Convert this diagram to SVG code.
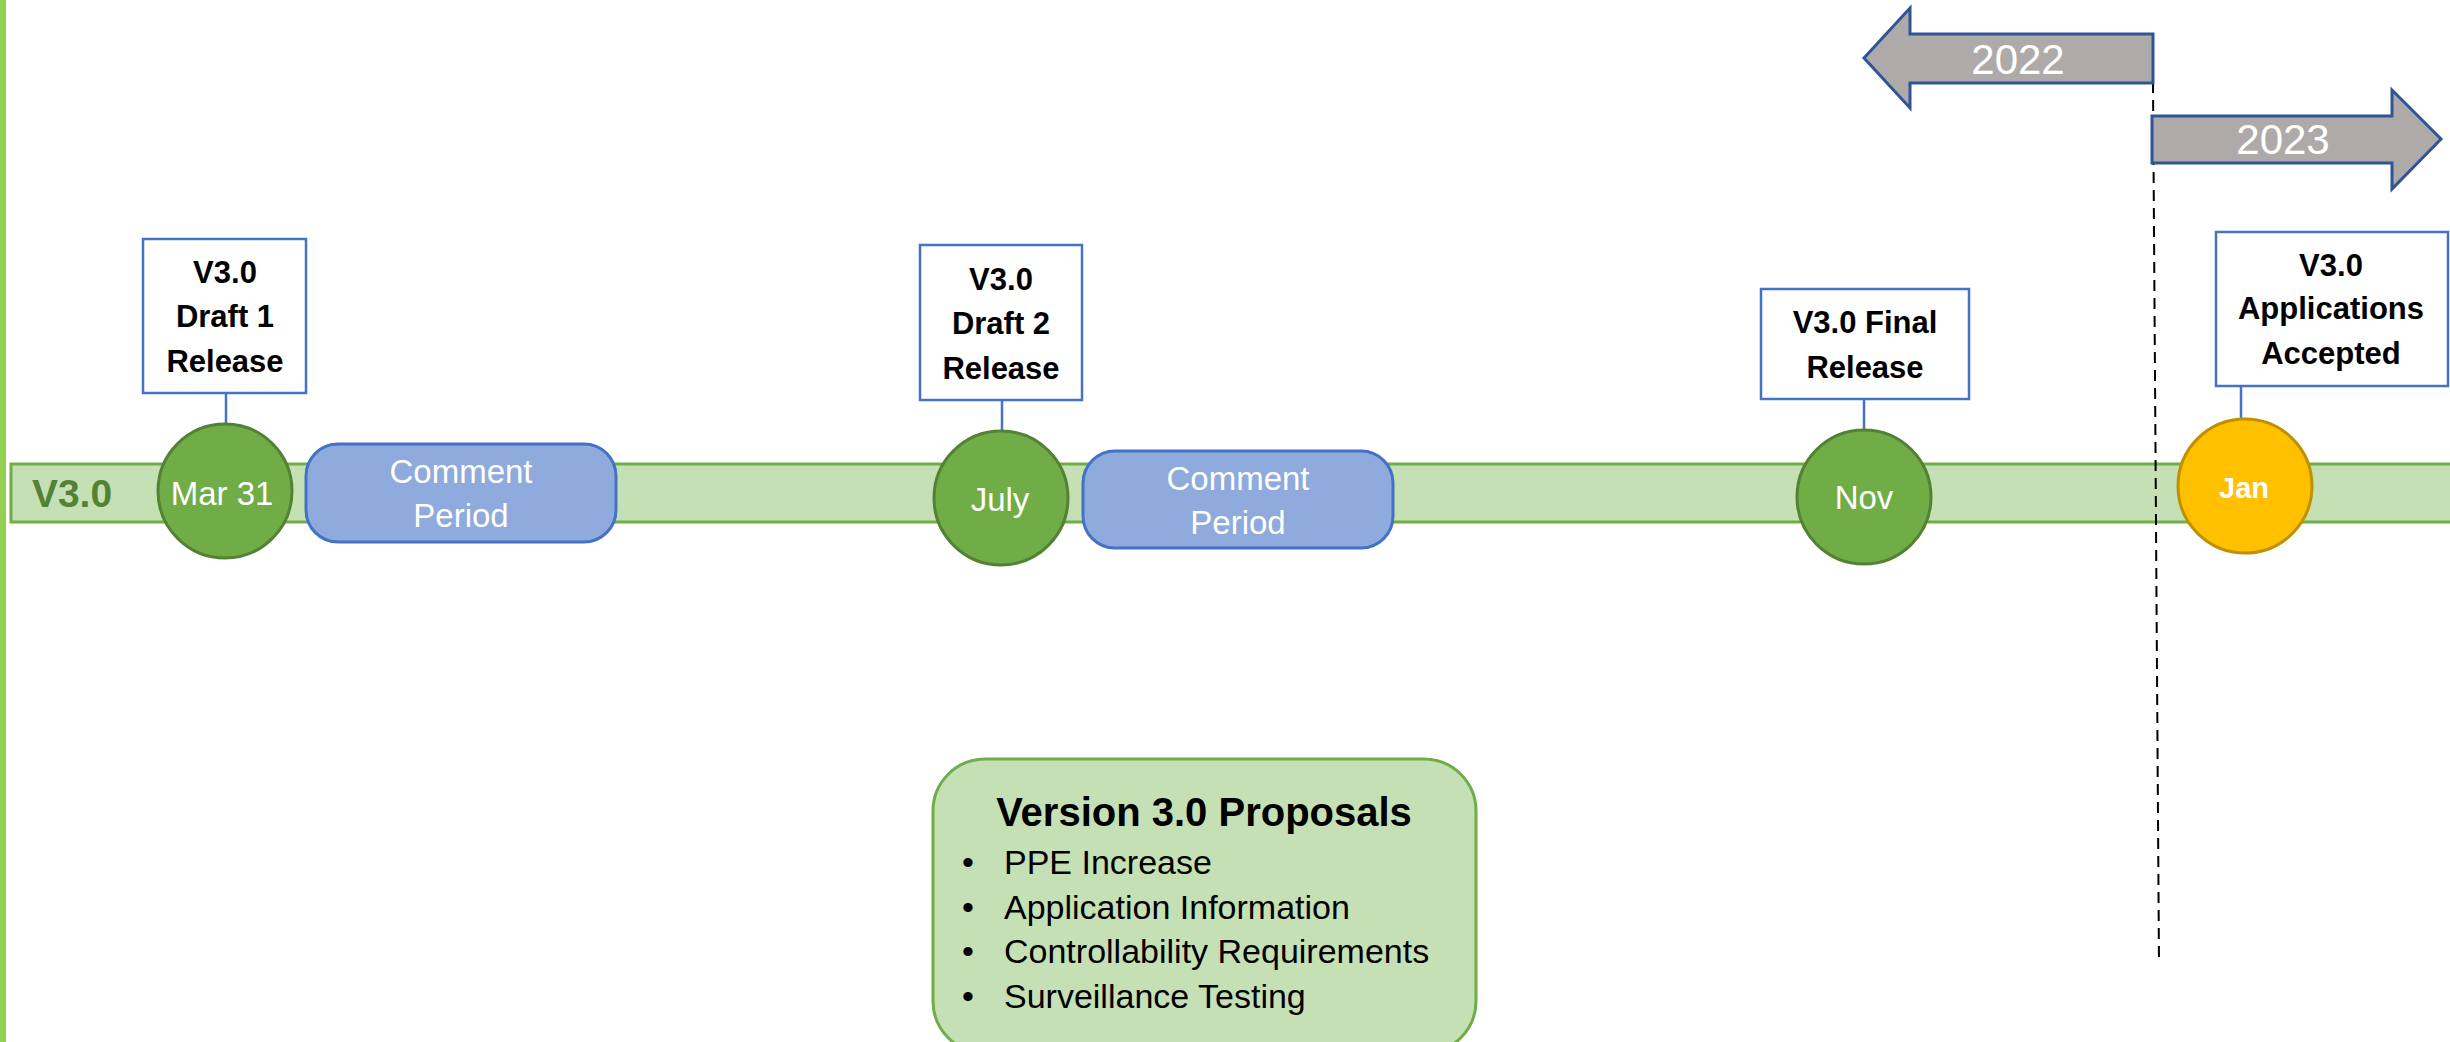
<svg xmlns="http://www.w3.org/2000/svg" width="2450" height="1042" viewBox="0 0 2450 1042">
<style>
.lbl{font-family:"Liberation Sans",Arial,sans-serif;font-weight:bold;font-size:31px;fill:#000;text-anchor:middle}
.box{fill:#fff;stroke:#4472C4;stroke-width:2.5}
.ms{fill:#70AD47;stroke:#548235;stroke-width:3}
.mt{font-family:"Liberation Sans",Arial,sans-serif;font-size:33px;fill:#fff;text-anchor:middle}
.cp{fill:#8FAADC;stroke:#4472C4;stroke-width:3}
.yr{fill:#AEAAAA;stroke:#2F5597;stroke-width:3;stroke-linejoin:miter}
.yt{font-family:"Liberation Sans",Arial,sans-serif;font-size:42px;fill:#fff;text-anchor:middle}
.con{stroke:#4472C4;stroke-width:2.5;fill:none}
.pt{font-family:"Liberation Sans",Arial,sans-serif;font-size:34px;fill:#000}
</style>
<rect x="0" y="0" width="2450" height="1042" fill="#fff"/>
<rect id="leftbar" x="0" y="0" width="6" height="1042" fill="#92D050"/>
<g id="band">
<rect x="11" y="464" width="2445" height="58" fill="#C5E0B4" stroke="#70AD47" stroke-width="3"/>
<text x="72" y="507" font-family="Liberation Sans,Arial,sans-serif" font-weight="bold" font-size="39" fill="#548235" text-anchor="middle">V3.0</text>
</g>
<g id="connectors">
<line class="con" x1="226" y1="393" x2="226" y2="424"/>
<line class="con" x1="1002" y1="400" x2="1002" y2="431"/>
<line class="con" x1="1864" y1="399" x2="1864" y2="430"/>
<line class="con" x1="2241" y1="386" x2="2241" y2="419"/>
<line x1="2153" y1="82" x2="2159" y2="964" stroke="#000" stroke-width="2" stroke-dasharray="11 7"/>
</g>
<g id="year2022">
<polygon class="yr" points="1864,58 1910,8 1910,34 2153,34 2153,83 1910,83 1910,108"/>
<text class="yt" x="2018" y="74">2022</text>
</g>
<g id="year2023">
<polygon class="yr" points="2152,116 2392,116 2392,90 2441,139 2392,189 2392,163 2152,163"/>
<text class="yt" x="2283" y="154">2023</text>
</g>
<g id="draft1-label">
<rect class="box" x="143" y="239" width="163" height="154"/>
<text class="lbl" x="225" y="283">V3.0</text>
<text class="lbl" x="225" y="327">Draft 1</text>
<text class="lbl" x="225" y="372">Release</text>
</g>
<g id="mar31">
<circle class="ms" cx="225" cy="491" r="67"/>
<text class="mt" x="222" y="505">Mar 31</text>
</g>
<g id="comment1">
<rect class="cp" x="306" y="444" width="310" height="98" rx="32"/>
<text class="mt" x="461" y="483">Comment</text>
<text class="mt" x="461" y="527">Period</text>
</g>
<g id="draft2-label">
<rect class="box" x="920" y="245" width="162" height="155"/>
<text class="lbl" x="1001" y="290">V3.0</text>
<text class="lbl" x="1001" y="334">Draft 2</text>
<text class="lbl" x="1001" y="379">Release</text>
</g>
<g id="july">
<circle class="ms" cx="1001" cy="498" r="67"/>
<text class="mt" x="1000" y="511">July</text>
</g>
<g id="comment2">
<rect class="cp" x="1083" y="451" width="310" height="97" rx="32"/>
<text class="mt" x="1238" y="490">Comment</text>
<text class="mt" x="1238" y="534">Period</text>
</g>
<g id="final-label">
<rect class="box" x="1761" y="289" width="208" height="110"/>
<text class="lbl" x="1865" y="333">V3.0 Final</text>
<text class="lbl" x="1865" y="378">Release</text>
</g>
<g id="nov">
<circle class="ms" cx="1864" cy="497" r="67"/>
<text class="mt" x="1864" y="509">Nov</text>
</g>
<g id="apps-label">
<rect class="box" x="2216" y="232" width="232" height="154"/>
<text class="lbl" x="2331" y="276">V3.0</text>
<text class="lbl" x="2331" y="319">Applications</text>
<text class="lbl" x="2331" y="364">Accepted</text>
</g>
<g id="jan">
<circle cx="2245" cy="486" r="67" fill="#FFC000" stroke="#BF9000" stroke-width="3"/>
<text x="2244" y="498" font-family="Liberation Sans,Arial,sans-serif" font-weight="bold" font-size="29" fill="#fff" text-anchor="middle">Jan</text>
</g>
<g id="proposals">
<rect x="933" y="759" width="543" height="294" rx="52" fill="#C5E0B4" stroke="#70AD47" stroke-width="3"/>
<text x="1204" y="826" font-family="Liberation Sans,Arial,sans-serif" font-weight="bold" font-size="40" fill="#000" text-anchor="middle">Version 3.0 Proposals</text>
<text class="pt" x="962" y="874">•</text>
<text class="pt" x="1004" y="874">PPE Increase</text>
<text class="pt" x="962" y="919">•</text>
<text class="pt" x="1004" y="919">Application Information</text>
<text class="pt" x="962" y="963">•</text>
<text class="pt" x="1004" y="963">Controllability Requirements</text>
<text class="pt" x="962" y="1008">•</text>
<text class="pt" x="1004" y="1008">Surveillance Testing</text>
</g>
</svg>
